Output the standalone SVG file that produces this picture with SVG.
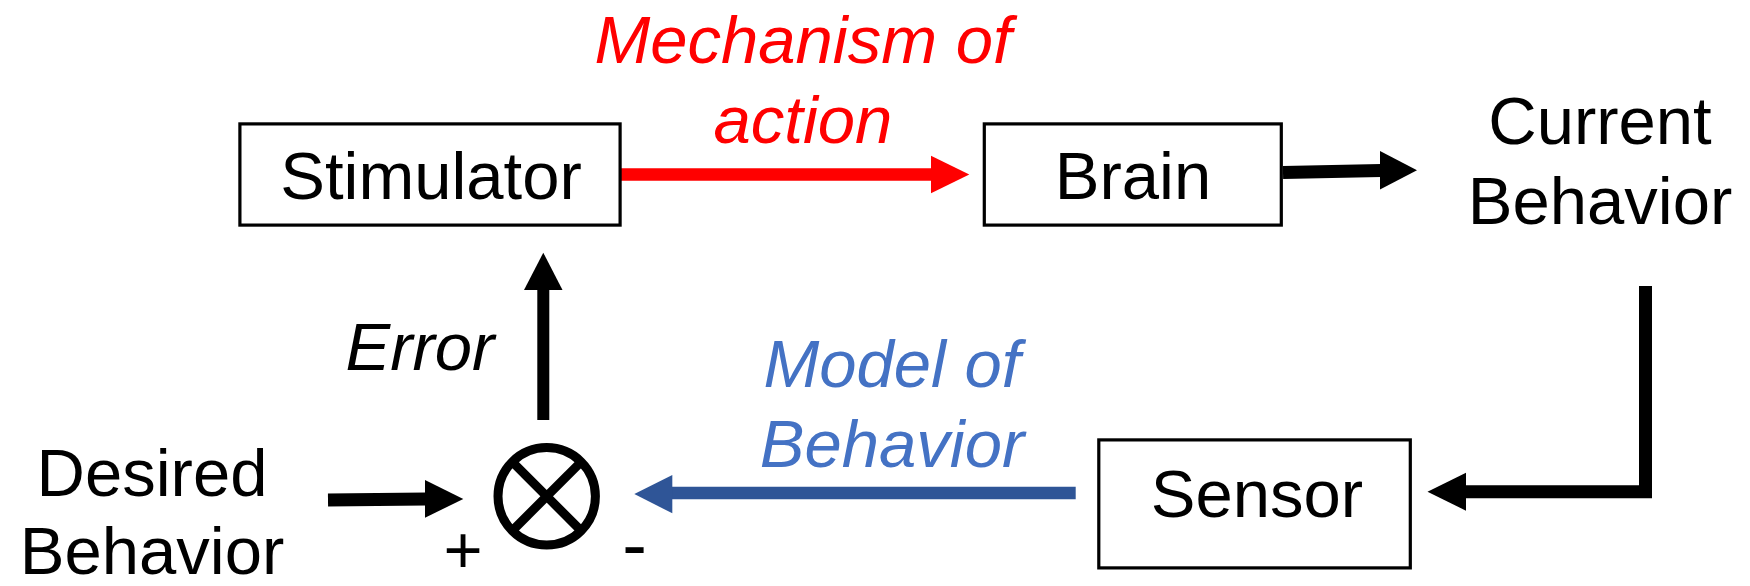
<svg xmlns="http://www.w3.org/2000/svg" width="1750" height="586" viewBox="0 0 1750 586">
<style>
.box{fill:#fff;stroke:#000;stroke-width:3.2}
.t{font-family:"Liberation Sans",Arial,sans-serif;font-size:67px;fill:#000}
.mid{text-anchor:middle}
.it{font-style:italic}
.blk{stroke:#000;stroke-width:13;fill:none;stroke-linejoin:miter}
.hk{fill:#000}
</style>
<rect width="1750" height="586" fill="#fff"/>
<g id="connectors">
  <line x1="621" y1="174.5" x2="932" y2="174.5" stroke="#FF0000" stroke-width="12.3"/>
  <polygon points="931,155.7 969.3,174.6 931,193.3" fill="#FF0000"/>
  <line x1="1283" y1="172.5" x2="1381" y2="170.5" class="blk"/>
  <polygon class="hk" points="1380,151 1417,170.3 1380,189.5"/>
  <line x1="543.3" y1="420" x2="543.3" y2="289" stroke="#000" stroke-width="12"/>
  <polygon class="hk" points="524,290 543.3,252.7 562.5,290"/>
  <line x1="328" y1="500" x2="426" y2="499" class="blk"/>
  <polygon class="hk" points="425,480 463.3,499 425,517.7"/>
  <polyline class="blk" points="1645.5,286 1645.5,491.7 1465,491.7"/>
  <polygon class="hk" points="1466,472.7 1427.5,491.7 1466,510.7"/>
  <line x1="1075.7" y1="493" x2="671" y2="493" stroke="#2F5597" stroke-width="12.3"/>
  <polygon points="672.3,475 634.3,494 672.3,513.3" fill="#2F5597"/>
</g>
<g id="stimulator">
  <rect class="box" x="239.9" y="123.9" width="380.2" height="101.2"/>
  <text class="t mid" x="431" y="199">Stimulator</text>
</g>
<g id="brain">
  <rect class="box" x="984.3" y="123.9" width="297" height="101.2"/>
  <text class="t mid" x="1133" y="199">Brain</text>
</g>
<g id="sensor">
  <rect class="box" x="1098.8" y="439.9" width="311.5" height="128"/>
  <text class="t mid" x="1257" y="517">Sensor</text>
</g>
<g id="current-behavior">
  <text class="t mid" x="1600" y="144">Current</text>
  <text class="t mid" x="1600" y="224">Behavior</text>
</g>
<g id="desired-behavior">
  <text class="t mid" x="152" y="496">Desired</text>
  <text class="t mid" x="152" y="574">Behavior</text>
</g>
<g id="comparator">
  <circle cx="546.7" cy="496.3" r="48.7" fill="none" stroke="#000" stroke-width="9"/>
  <line x1="512.3" y1="461.9" x2="581.1" y2="530.7" stroke="#000" stroke-width="9"/>
  <line x1="581.1" y1="461.9" x2="512.3" y2="530.7" stroke="#000" stroke-width="9"/>
  <text class="t mid" x="463" y="573">+</text>
  <text class="t mid" x="634.5" y="570" style="font-size:74px">-</text>
</g>
<g id="labels">
  <text class="t mid it" x="803" y="63" style="fill:#FF0000">Mechanism of</text>
  <text class="t mid it" x="803" y="143" style="fill:#FF0000">action</text>
  <text class="t mid it" x="892" y="387" style="fill:#4472C4">Model of</text>
  <text class="t mid it" x="892" y="467" style="fill:#4472C4">Behavior</text>
  <text class="t mid it" x="420" y="370">Error</text>
</g>
</svg>
